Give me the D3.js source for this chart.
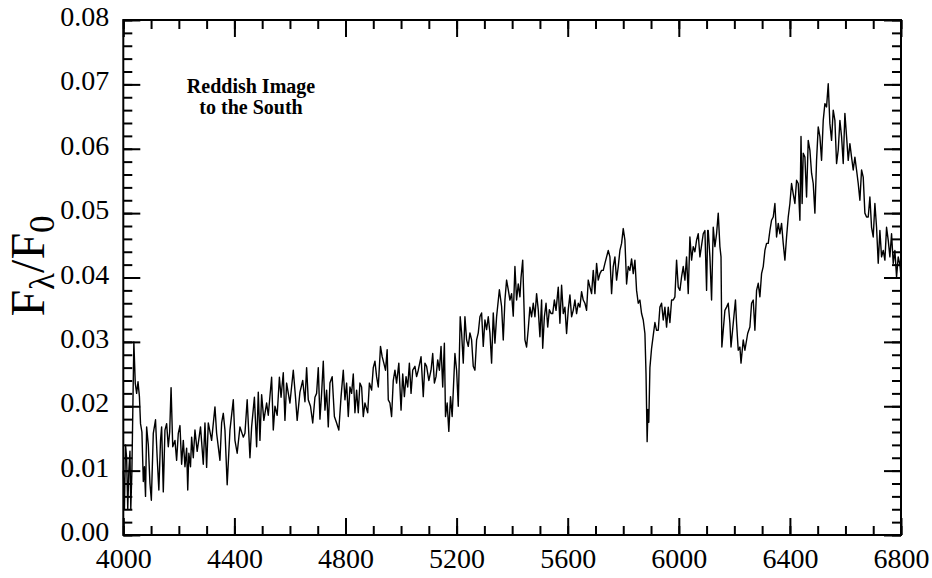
<!DOCTYPE html>
<html>
<head>
<meta charset="utf-8">
<script src="https://cdn.jsdelivr.net/npm/d3@7"></script>
<style>
  body { margin: 0; background: #fff; }
  svg { display: block; }
  text { font-family: "Liberation Serif", "Times New Roman", serif; fill: #000; }
</style>
</head>
<body>
<svg id="chart"></svg>
<script>
// Spectrum, split in four pieces: [wavelength (A), flux in units of 0.001]
const spectrumBlue = [
    [4000, 10], [4004, 4], [4008, 14], [4012, 12], [4016, 4], [4020, 10], [4024, 13], [4027, 4],
    [4031, 10], [4038, 30], [4043, 23.6], [4048, 22], [4053, 23.8], [4058, 21.5], [4062, 17.3],
    [4067, 16], [4072, 8.3], [4076, 10.6], [4080, 6], [4084, 16.8], [4090, 14], [4096, 8],
    [4101, 5.4], [4108, 15.8], [4116, 17.9], [4122, 12], [4128, 7], [4134, 14.7], [4138, 16.8],
    [4144, 6.7], [4150, 16.3], [4156, 17.3], [4162, 13.7], [4167, 16], [4172, 22.9], [4178, 13.7],
    [4186, 14.7], [4192, 11.6], [4198, 15.8], [4204, 17], [4210, 11], [4216, 14.7], [4222, 10.6],
    [4228, 13.5], [4232, 7], [4236, 12.7], [4242, 10.6], [4246, 15.2], [4252, 12], [4258, 16.3],
    [4266, 13], [4278, 16.8], [4288, 11], [4294, 17.4], [4300, 10.5], [4306, 17.4], [4318, 14.7],
    [4330, 19.9], [4336, 15.8], [4348, 11.6], [4354, 17.4], [4360, 18.9], [4366, 16.3], [4374, 7.8],
    [4384, 16.3], [4396, 21], [4402, 14.7], [4410, 12.7], [4420, 16.8], [4432, 15.2], [4438, 15.8],
    [4446, 21], [4456, 12], [4462, 16.8], [4472, 21.4], [4480, 13.7], [4486, 22.2], [4492, 14.7],
    [4498, 21.8], [4506, 17.8], [4516, 20.5], [4522, 18.6], [4534, 24.5], [4540, 16.3], [4546, 20],
    [4554, 18.6], [4562, 24.5], [4568, 21.4], [4576, 25.2], [4582, 17.8], [4588, 23.6], [4600, 20.5],
    [4612, 25.6], [4620, 21.4], [4626, 17.8], [4636, 22.2], [4646, 24], [4654, 20.7], [4660, 26],
    [4666, 21], [4674, 20], [4682, 17.4], [4690, 21.4], [4696, 22], [4702, 26], [4708, 18]
];

const spectrumGreen = [
    [4714, 22], [4720, 27], [4726, 19.4], [4732, 22.5], [4738, 16.8], [4744, 23.6], [4752, 24.6],
    [4760, 18.4], [4768, 17.4], [4776, 16.3], [4784, 21.5], [4792, 25.6], [4798, 21], [4804, 23.6],
    [4810, 18.4], [4816, 23], [4822, 22], [4828, 25], [4834, 19], [4840, 22.5], [4846, 19],
    [4852, 23.6], [4858, 23], [4864, 18.4], [4870, 20.5], [4880, 19], [4886, 23.6], [4894, 22.5],
    [4900, 26], [4906, 27], [4912, 24.6], [4918, 23], [4926, 29.3], [4932, 27.7], [4938, 26.7],
    [4944, 25.6], [4950, 28.8], [4954, 21], [4960, 20.5], [4966, 18.4], [4972, 24], [4978, 25.6],
    [4984, 23.6], [4992, 26.7], [5000, 19.4], [5006, 25], [5012, 21.5], [5018, 24.6], [5024, 23],
    [5030, 26.7], [5036, 22], [5042, 25.6], [5050, 26.2], [5056, 24.6], [5062, 25.6], [5072, 27.7],
    [5080, 21.5], [5086, 26.7], [5092, 26.2], [5100, 24], [5108, 25.6], [5114, 28.2], [5120, 23.6],
    [5126, 24.6], [5132, 27.2], [5138, 25.6], [5144, 29.3], [5150, 23], [5156, 29.8], [5160, 18.4],
    [5166, 20.5], [5172, 16.1], [5178, 21.5], [5184, 18.4], [5194, 28.2], [5200, 25.6], [5206, 20],
    [5213, 33.9], [5218, 31.4], [5224, 26.7], [5230, 33.9], [5236, 30.3], [5242, 29.3], [5248, 31.4],
    [5254, 30.3], [5260, 26.2], [5266, 25.6], [5272, 30.3], [5278, 31.4], [5284, 33.9], [5290, 34.5],
    [5296, 29.3], [5302, 33.4], [5308, 31.9], [5314, 33.9], [5320, 31.4], [5326, 26.7], [5332, 34.5],
    [5338, 29.8], [5344, 33.9], [5354, 38.1], [5362, 35.5], [5368, 30.3], [5374, 36.5], [5380, 39.6],
    [5386, 38.1], [5392, 36.5], [5398, 37.5], [5404, 34]
];

const spectrumYellow = [
    [5410, 41.7], [5416, 36.5], [5422, 39], [5428, 37], [5432, 40], [5438, 42.7], [5442, 36.5],
    [5446, 30.3], [5452, 29.2], [5458, 32], [5464, 35.4], [5470, 33.9], [5476, 36], [5482, 33.9],
    [5488, 37.5], [5494, 35], [5500, 30.8], [5506, 36.5], [5510, 29], [5516, 33.9], [5522, 36],
    [5528, 32.3], [5534, 35], [5540, 34.4], [5546, 34.4], [5552, 36.5], [5558, 34.9], [5566, 38.5],
    [5572, 32.9], [5578, 38.8], [5584, 34.4], [5590, 35.4], [5596, 31.3], [5602, 35], [5608, 37.3],
    [5614, 33.9], [5620, 34.9], [5626, 36.5], [5632, 34.4], [5638, 36], [5644, 35.4], [5650, 37.8],
    [5656, 36.5], [5662, 36], [5668, 34.9], [5674, 39.6], [5680, 38.5], [5686, 37.5], [5692, 41.1],
    [5698, 37.5], [5704, 42.2], [5710, 39.6], [5716, 40.6], [5722, 41.1], [5728, 41.1], [5734, 42.2],
    [5740, 43.2], [5746, 44.2], [5752, 43.2], [5758, 37.5], [5764, 41.7], [5770, 43.2], [5776, 39.6],
    [5782, 41.7], [5788, 44.2], [5794, 45.3], [5800, 47.6], [5806, 45.8], [5812, 39], [5818, 41.7],
    [5824, 41.1], [5830, 42.9], [5836, 40.6], [5842, 42.7], [5848, 38], [5854, 36], [5860, 36.5],
    [5866, 34.4], [5872, 33.4], [5878, 31.3], [5882, 25], [5886, 14.5], [5889, 19.5], [5892, 17.5],
    [5896, 26], [5902, 29], [5908, 31], [5914, 33], [5920, 31.8], [5926, 31.8], [5932, 35.4],
    [5938, 36], [5944, 33.4], [5950, 35.4], [5956, 32.3], [5962, 35.4], [5968, 33], [5974, 36.5],
    [5980, 36.5], [5986, 37], [5992, 42.7], [5998, 38.5], [6004, 38], [6010, 40.1], [6016, 41.7],
    [6022, 39.6], [6028, 43.2], [6034, 37.5], [6040, 46.3], [6046, 42.7], [6052, 44.8], [6058, 44],
    [6064, 45.8], [6070, 46.8], [6076, 43.2], [6082, 45], [6088, 46.8], [6094, 47.3], [6100, 38],
    [6104, 47.3]
];

const spectrumRed = [
    [6106, 47.3], [6112, 43.2], [6118, 36.5], [6124, 47.8], [6130, 44.8], [6136, 46.8], [6142, 50],
    [6148, 44.8], [6152, 43.2], [6155, 29.2], [6160, 31.8], [6166, 34.9], [6172, 35.4], [6178, 36],
    [6184, 32.9], [6188, 29.2], [6196, 32.9], [6204, 36.5], [6208, 32.9], [6214, 28.7], [6220, 29.2],
    [6224, 26.7], [6232, 30.3], [6238, 28.7], [6248, 31.3], [6256, 32.3], [6262, 36], [6268, 36.5],
    [6274, 31.8], [6280, 38], [6286, 39.1], [6292, 37], [6298, 40.6], [6304, 41.7], [6310, 44.2],
    [6316, 45.3], [6322, 45.3], [6328, 47.3], [6334, 48.9], [6340, 49.4], [6346, 51.5], [6352, 46.3],
    [6358, 48.4], [6364, 46.8], [6370, 48.4], [6376, 45.3], [6382, 42.7], [6388, 46.3], [6394, 49.4],
    [6400, 51.5], [6406, 54.6], [6412, 53], [6418, 51.5], [6424, 55.1], [6430, 54.6], [6436, 48.9],
    [6440, 61.9], [6444, 51.5], [6448, 59.3], [6454, 58.7], [6460, 52.5], [6466, 61.3], [6472, 59.8],
    [6478, 56.2], [6484, 54.6], [6490, 50], [6496, 58.2], [6502, 63.4], [6508, 61.9], [6514, 58.2],
    [6520, 64.4], [6526, 67], [6532, 66.5], [6538, 70.1], [6544, 63.9], [6550, 61.3], [6556, 66],
    [6562, 64.4], [6568, 57.7], [6574, 59.8], [6580, 64.4], [6586, 61.9], [6592, 57.7], [6598, 65.5],
    [6604, 61.9], [6610, 58.2], [6616, 60.8], [6622, 58.7], [6628, 56.7], [6634, 58.7], [6640, 56.7],
    [6646, 54.6], [6652, 52], [6658, 56.7], [6664, 55.6], [6670, 50], [6676, 49.4], [6682, 49.4],
    [6688, 52.5], [6694, 47.8], [6700, 46.3], [6706, 51.5], [6712, 47.8], [6718, 42.2], [6724, 47.3],
    [6730, 43.2], [6736, 44.2], [6742, 42.7], [6748, 47.8], [6754, 45.8], [6760, 43.2], [6766, 46.8],
    [6772, 42.2], [6778, 44.2], [6784, 40.1], [6790, 43.2], [6796, 42], [6800, 40.1]
];

// Axis ticks
const xTickLabels = [4000, 4400, 4800, 5200, 5600, 6000, 6400, 6800];
const yTickLabels = [0, 0.01, 0.02, 0.03, 0.04, 0.05, 0.06, 0.07, 0.08];
const noteLines = ["Reddish Image", "to the South"];

const serif = '"Liberation Serif", "Times New Roman", serif';
const width = 932;
const height = 578;
const margin = { top: 20, right: 31, bottom: 43, left: 123.3 };
const majorLen = 17;
const minorLen = 9;

const svg = d3.select("#chart")
    .attr("width", width)
    .attr("height", height);

const x = d3.scaleLinear()
    .domain([4000, 6800])
    .range([margin.left, width - margin.right]);

const y = d3.scaleLinear()
    .domain([0, 0.08])
    .range([height - margin.bottom, margin.top]);

const spectrum = spectrumBlue.concat(spectrumGreen, spectrumYellow, spectrumRed);

// minor ticks (no labels)
const xMinor = d3.range(4000, 6801, 100);
const yMinor = d3.range(0, 0.0801, 0.002);

function styleAxis(g) {
    g.attr("font-family", serif);
    g.select(".domain").remove();
    g.selectAll("line").attr("stroke", "#000").attr("stroke-width", 2);
    g.selectAll("text").style("font-family", serif).style("font-size", "28px");
}

// bottom
svg.append("g")
    .attr("transform", `translate(0,${y(0)})`)
    .call(d3.axisBottom(x).tickValues(xMinor).tickSizeInner(-minorLen).tickSizeOuter(0).tickFormat(""))
    .call(styleAxis);
svg.append("g")
    .attr("transform", `translate(0,${y(0)})`)
    .call(d3.axisBottom(x).tickValues(xTickLabels).tickSizeInner(-majorLen).tickSizeOuter(0).tickPadding(13).tickFormat(d3.format("d")))
    .call(styleAxis);

// top
svg.append("g")
    .attr("transform", `translate(0,${y(0.08)})`)
    .call(d3.axisTop(x).tickValues(xMinor).tickSizeInner(-minorLen).tickSizeOuter(0).tickFormat(""))
    .call(styleAxis);
svg.append("g")
    .attr("transform", `translate(0,${y(0.08)})`)
    .call(d3.axisTop(x).tickValues(xTickLabels).tickSizeInner(-majorLen).tickSizeOuter(0).tickFormat(""))
    .call(styleAxis);

// left
svg.append("g")
    .attr("transform", `translate(${x(4000)},0)`)
    .call(d3.axisLeft(y).tickValues(yMinor).tickSizeInner(-minorLen).tickSizeOuter(0).tickFormat(""))
    .call(styleAxis);
svg.append("g")
    .attr("transform", `translate(${x(4000)},0)`)
    .call(d3.axisLeft(y).tickValues(yTickLabels).tickSizeInner(-majorLen).tickSizeOuter(0).tickPadding(14).tickFormat(d3.format(".2f")))
    .call(styleAxis)
    .selectAll("text")
    .attr("dy", "0.2em");

// right
svg.append("g")
    .attr("transform", `translate(${x(6800)},0)`)
    .call(d3.axisRight(y).tickValues(yMinor).tickSizeInner(-minorLen).tickSizeOuter(0).tickFormat(""))
    .call(styleAxis);
svg.append("g")
    .attr("transform", `translate(${x(6800)},0)`)
    .call(d3.axisRight(y).tickValues(yTickLabels).tickSizeInner(-majorLen).tickSizeOuter(0).tickFormat(""))
    .call(styleAxis);

// the spectrum
const line = d3.line()
    .x(d => x(d[0]))
    .y(d => y(d[1] / 1000));

svg.append("path")
    .datum(spectrum)
    .attr("fill", "none")
    .attr("stroke", "#000")
    .attr("stroke-width", 1.4)
    .attr("stroke-linejoin", "round")
    .attr("d", line);

// frame
svg.append("rect")
    .attr("x", x(4000))
    .attr("y", y(0.08))
    .attr("width", x(6800) - x(4000))
    .attr("height", y(0) - y(0.08))
    .attr("fill", "none")
    .attr("stroke", "#000")
    .attr("stroke-width", 2);

// y title: F_lambda / F_0
const title = svg.append("text")
    .attr("transform", "translate(44,266) rotate(-90)")
    .attr("text-anchor", "middle")
    .style("font-size", "48px");
title.append("tspan").text("F");
title.append("tspan").attr("dy", 10).style("font-size", "35px").text("λ");
title.append("tspan").attr("dy", -10).text("/F");
title.append("tspan").attr("dy", 10).style("font-size", "35px").text("0");

// note in the upper left
svg.append("text")
    .attr("x", 251)
    .attr("y", 93)
    .attr("text-anchor", "middle")
    .style("font-size", "20px")
    .style("font-weight", "bold")
    .selectAll("tspan")
    .data(noteLines)
    .enter().append("tspan")
    .attr("x", 251)
    .attr("dy", (d, i) => i === 0 ? 0 : 21)
    .text(d => d);
</script>
</body>
</html>
